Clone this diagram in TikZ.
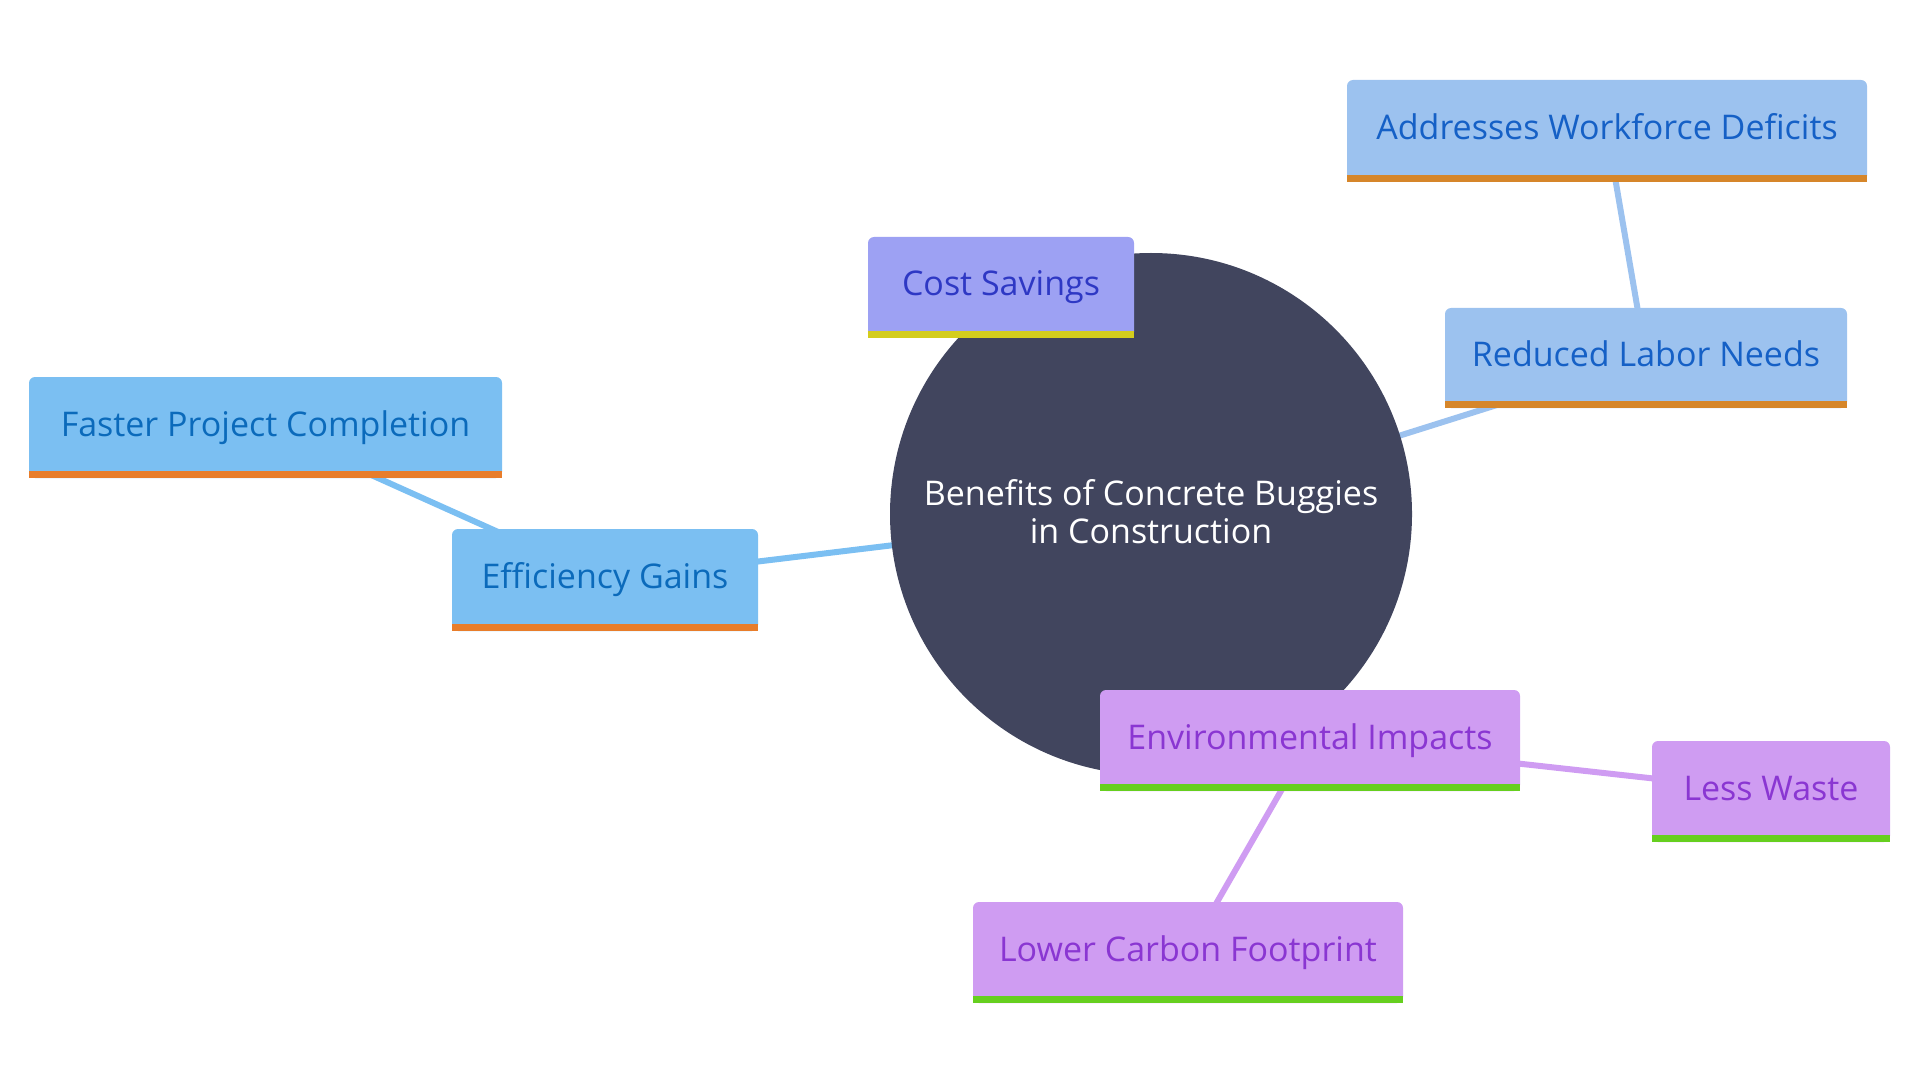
\documentclass[tikz,border=0pt]{standalone}
\usepackage{fontspec}
\setmainfont{Open Sans}
\usetikzlibrary{backgrounds,calc}
\definecolor{hubfill}{HTML}{41455E}
\definecolor{costfill}{HTML}{9DA1F3}
\definecolor{costtext}{HTML}{2E38C4}
\definecolor{coststripe}{HTML}{D4CD1D}
\definecolor{efffill}{HTML}{7BBFF2}
\definecolor{efftext}{HTML}{0B6ABB}
\definecolor{effstripe}{HTML}{E87D2B}
\definecolor{labfill}{HTML}{9CC2EF}
\definecolor{labtext}{HTML}{1560C6}
\definecolor{labstripe}{HTML}{D6862A}
\definecolor{envfill}{HTML}{CF9CF2}
\definecolor{envtext}{HTML}{8A36D2}
\definecolor{envstripe}{HTML}{66CF1F}
\tikzset{
  hub/.style={circle, fill=hubfill, minimum size=261pt, inner sep=0pt, text=white, font=\fontsize{17pt}{19pt}\selectfont},
  leaf/.style={rectangle, rounded corners=3pt, minimum height=50.5pt, inner sep=0pt, text height=10pt, text depth=1.5pt, font=\fontsize{17pt}{19pt}\selectfont},
  costbox/.style={leaf, fill=costfill, text=costtext},
  effbox/.style={leaf, fill=efffill, text=efftext},
  labbox/.style={leaf, fill=labfill, text=labtext},
  envbox/.style={leaf, fill=envfill, text=envtext},
  link/.style={line width=3pt},
}
\newcommand{\stripe}[2]{\fill[#2] (#1.south west) rectangle ($(#1.south east)+(0,-7)$);}
\begin{document}
\begin{tikzpicture}[x=0.5pt,y=-0.5pt]
\useasboundingbox (0,0) rectangle (1920,1080);
\node[hub] (hub) at (1151,514) {\raisebox{-1.25pt}[\height][\depth]{\begin{tabular}{@{}c@{}}Benefits of Concrete Buggies\\in Construction\end{tabular}}};
\node[costbox, minimum width=133pt] (cost) at (1001,287.5) {Cost Savings};
\stripe{cost}{coststripe}
\node[effbox, minimum width=236.5pt] (faster) at (265.5,427.5) {Faster Project Completion};
\stripe{faster}{effstripe}
\node[effbox, minimum width=153pt, minimum height=51pt] (eff) at (605,580) {Efficiency Gains};
\stripe{eff}{effstripe}
\node[labbox, minimum width=260pt, minimum height=51pt] (addr) at (1607,131) {Addresses Workforce Deficits};
\stripe{addr}{labstripe}
\node[labbox, minimum width=201pt, minimum height=50pt] (labor) at (1646,358) {Reduced Labor Needs};
\stripe{labor}{labstripe}
\node[envbox, minimum width=210pt] (env) at (1310,740.5) {Environmental Impacts};
\stripe{env}{envstripe}
\node[envbox, minimum width=215pt] (lower) at (1188,952.5) {Lower Carbon Footprint};
\stripe{lower}{envstripe}
\node[envbox, minimum width=119pt] (waste) at (1771,791.5) {Less Waste};
\stripe{waste}{envstripe}
\begin{pgfonlayer}{background}
\draw[link, efffill] (hub.center) -- (eff.center);
\draw[link, efffill] (eff.center) -- (faster.center);
\draw[link, labfill] (hub.center) -- (labor.center);
\draw[link, labfill] (labor.center) -- (addr.center);
\draw[link, envfill] (env.center) -- (waste.center);
\draw[link, envfill] (env.center) -- (lower.center);
\end{pgfonlayer}
\end{tikzpicture}
\end{document}
